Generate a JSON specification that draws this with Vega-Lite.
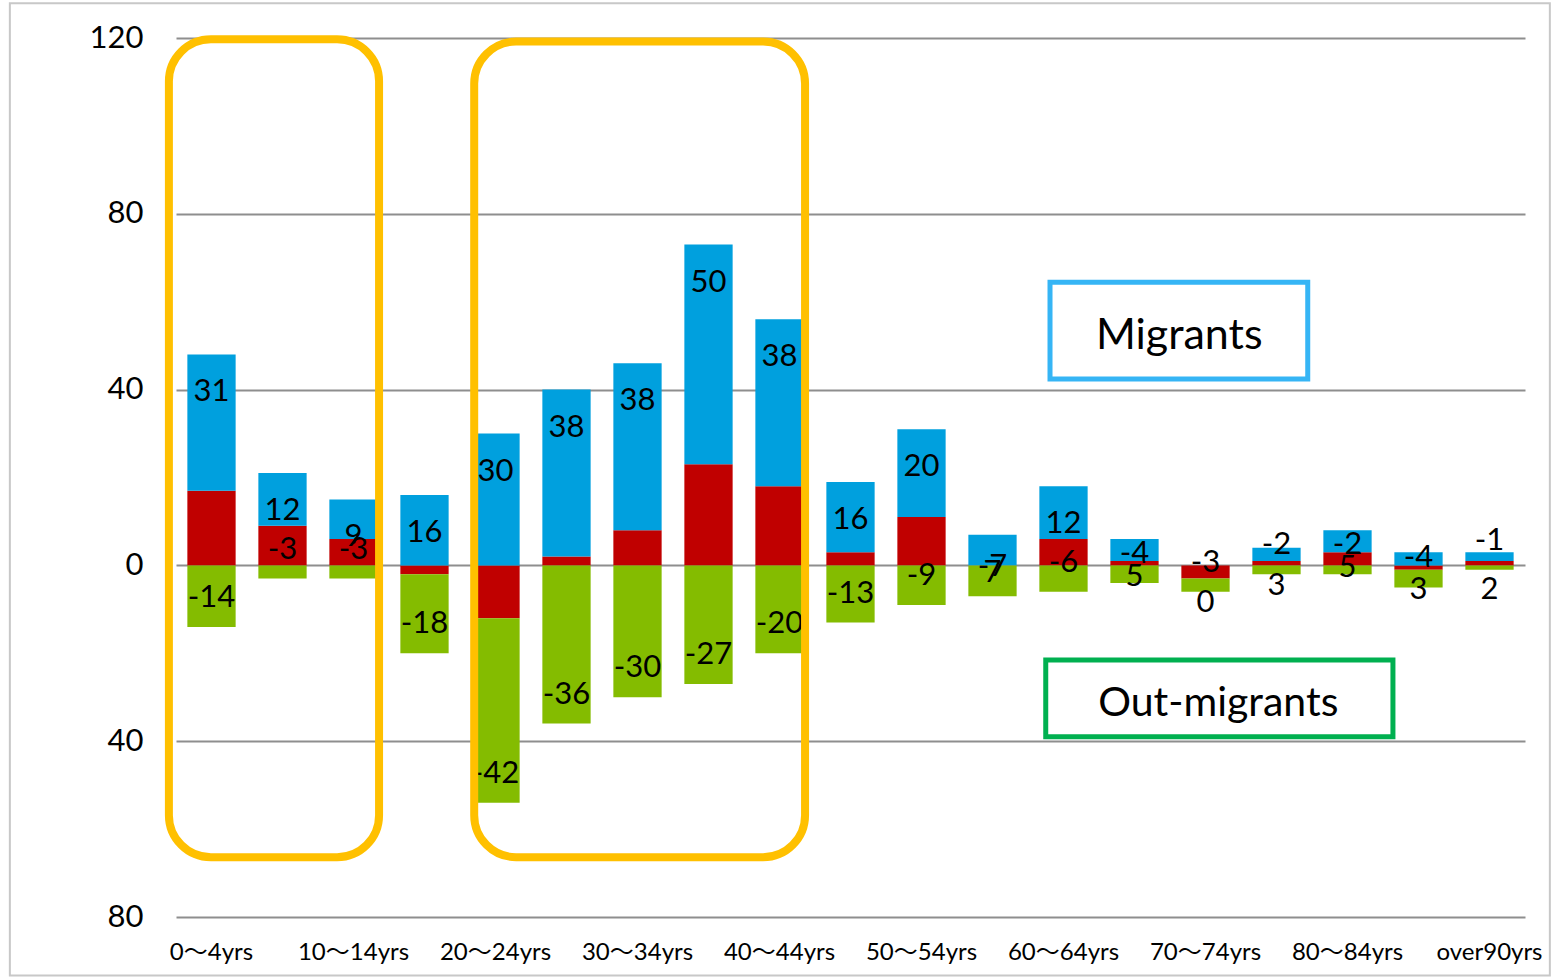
{
  "$schema": "https://vega.github.io/schema/vega-lite/v6.json",
  "width": 1349,
  "height": 879,
  "autosize": {"type": "none"},
  "padding": {"left": 176, "top": 38, "right": 31, "bottom": 60},
  "background": "white",
  "config": {
    "font": "Lato",
    "view": {"stroke": null},
    "axis": {"labelFont": "Lato, Noto Sans CJK JP", "labelColor": "#000000"}
  },
  "datasets": {
    "bars": [
      {"age": "0〜4yrs", "series": "Net", "value": 17, "o": 0},
      {"age": "0〜4yrs", "series": "Migrants", "value": 31, "o": 1},
      {"age": "0〜4yrs", "series": "Out-migrants", "value": -14, "o": 2},
      {"age": "5〜9yrs", "series": "Net", "value": 9, "o": 0},
      {"age": "5〜9yrs", "series": "Migrants", "value": 12, "o": 1},
      {"age": "5〜9yrs", "series": "Out-migrants", "value": -3, "o": 2},
      {"age": "10〜14yrs", "series": "Net", "value": 6, "o": 0},
      {"age": "10〜14yrs", "series": "Migrants", "value": 9, "o": 1},
      {"age": "10〜14yrs", "series": "Out-migrants", "value": -3, "o": 2},
      {"age": "15〜19yrs", "series": "Net", "value": -2, "o": 0},
      {"age": "15〜19yrs", "series": "Migrants", "value": 16, "o": 1},
      {"age": "15〜19yrs", "series": "Out-migrants", "value": -18, "o": 2},
      {"age": "20〜24yrs", "series": "Net", "value": -12, "o": 0},
      {"age": "20〜24yrs", "series": "Migrants", "value": 30, "o": 1},
      {"age": "20〜24yrs", "series": "Out-migrants", "value": -42, "o": 2},
      {"age": "25〜29yrs", "series": "Net", "value": 2, "o": 0},
      {"age": "25〜29yrs", "series": "Migrants", "value": 38, "o": 1},
      {"age": "25〜29yrs", "series": "Out-migrants", "value": -36, "o": 2},
      {"age": "30〜34yrs", "series": "Net", "value": 8, "o": 0},
      {"age": "30〜34yrs", "series": "Migrants", "value": 38, "o": 1},
      {"age": "30〜34yrs", "series": "Out-migrants", "value": -30, "o": 2},
      {"age": "35〜39yrs", "series": "Net", "value": 23, "o": 0},
      {"age": "35〜39yrs", "series": "Migrants", "value": 50, "o": 1},
      {"age": "35〜39yrs", "series": "Out-migrants", "value": -27, "o": 2},
      {"age": "40〜44yrs", "series": "Net", "value": 18, "o": 0},
      {"age": "40〜44yrs", "series": "Migrants", "value": 38, "o": 1},
      {"age": "40〜44yrs", "series": "Out-migrants", "value": -20, "o": 2},
      {"age": "45〜49yrs", "series": "Net", "value": 3, "o": 0},
      {"age": "45〜49yrs", "series": "Migrants", "value": 16, "o": 1},
      {"age": "45〜49yrs", "series": "Out-migrants", "value": -13, "o": 2},
      {"age": "50〜54yrs", "series": "Net", "value": 11, "o": 0},
      {"age": "50〜54yrs", "series": "Migrants", "value": 20, "o": 1},
      {"age": "50〜54yrs", "series": "Out-migrants", "value": -9, "o": 2},
      {"age": "55〜59yrs", "series": "Net", "value": 0, "o": 0},
      {"age": "55〜59yrs", "series": "Migrants", "value": 7, "o": 1},
      {"age": "55〜59yrs", "series": "Out-migrants", "value": -7, "o": 2},
      {"age": "60〜64yrs", "series": "Net", "value": 6, "o": 0},
      {"age": "60〜64yrs", "series": "Migrants", "value": 12, "o": 1},
      {"age": "60〜64yrs", "series": "Out-migrants", "value": -6, "o": 2},
      {"age": "65〜69yrs", "series": "Net", "value": 1, "o": 0},
      {"age": "65〜69yrs", "series": "Migrants", "value": 5, "o": 1},
      {"age": "65〜69yrs", "series": "Out-migrants", "value": -4, "o": 2},
      {"age": "70〜74yrs", "series": "Net", "value": -3, "o": 0},
      {"age": "70〜74yrs", "series": "Migrants", "value": 0, "o": 1},
      {"age": "70〜74yrs", "series": "Out-migrants", "value": -3, "o": 2},
      {"age": "75〜79yrs", "series": "Net", "value": 1, "o": 0},
      {"age": "75〜79yrs", "series": "Migrants", "value": 3, "o": 1},
      {"age": "75〜79yrs", "series": "Out-migrants", "value": -2, "o": 2},
      {"age": "80〜84yrs", "series": "Net", "value": 3, "o": 0},
      {"age": "80〜84yrs", "series": "Migrants", "value": 5, "o": 1},
      {"age": "80〜84yrs", "series": "Out-migrants", "value": -2, "o": 2},
      {"age": "85〜89yrs", "series": "Net", "value": -1, "o": 0},
      {"age": "85〜89yrs", "series": "Migrants", "value": 3, "o": 1},
      {"age": "85〜89yrs", "series": "Out-migrants", "value": -4, "o": 2},
      {"age": "over90yrs", "series": "Net", "value": 1, "o": 0},
      {"age": "over90yrs", "series": "Migrants", "value": 2, "o": 1},
      {"age": "over90yrs", "series": "Out-migrants", "value": -1, "o": 2}
    ],
    "frame": [
      {"x1": -2.34, "x2": 19.35, "y1": 127.9, "y2": -93.3}
    ],
    "orange": [
      {"x1": -0.1, "x2": 2.86, "y1": 119.7, "y2": -66.4},
      {"x1": 4.2, "x2": 8.86, "y1": 119.2, "y2": -66.4}
    ],
    "boxes": [
      {"name": "Migrants", "x1": 12.31, "x2": 15.94, "y1": 64.4, "y2": 42.4, "tx": 14.13, "ty": 49.3, "c": "#36B5F5", "fs": 43},
      {"name": "Out-migrants", "x1": 12.25, "x2": 17.14, "y1": -21.5, "y2": -39.0, "tx": 14.68, "ty": -34.2, "c": "#00B050", "fs": 41}
    ]
  },
  "layer": [
    {
      "data": {"name": "bars"},
      "transform": [
        {"stack": "value", "groupby": ["age"], "sort": [{"field": "o", "order": "ascending"}], "as": ["v0", "v1"]}
      ],
      "encoding": {
        "x": {
          "field": "age",
          "type": "nominal",
          "title": null,
          "scale": {
            "domain": ["0〜4yrs","5〜9yrs","10〜14yrs","15〜19yrs","20〜24yrs","25〜29yrs","30〜34yrs","35〜39yrs","40〜44yrs","45〜49yrs","50〜54yrs","55〜59yrs","60〜64yrs","65〜69yrs","70〜74yrs","75〜79yrs","80〜84yrs","85〜89yrs","over90yrs"],
            "paddingInner": 0.32,
            "paddingOuter": 0.16
          },
          "axis": {
            "values": ["0〜4yrs","10〜14yrs","20〜24yrs","30〜34yrs","40〜44yrs","50〜54yrs","60〜64yrs","70〜74yrs","80〜84yrs","over90yrs"],
            "labelAngle": 0,
            "labelFontSize": 24,
            "labelPadding": 23,
            "domain": false,
            "ticks": false,
            "grid": false
          }
        }
      },
      "layer": [
        {
          "mark": {"type": "bar"},
          "encoding": {
            "y": {
              "field": "v0",
              "type": "quantitative",
              "title": null,
              "scale": {"domain": [-80, 120], "nice": false, "zero": false},
              "axis": {
                "values": [-80, -40, 0, 40, 80, 120],
                "labelExpr": "format(abs(datum.value), 'd')",
                "labelFontSize": 31,
                "labelPadding": 33,
                "domain": false,
                "ticks": false,
                "grid": true,
                "gridColor": "#8E8E8E",
                "gridWidth": 2.2
              }
            },
            "y2": {"field": "v1"},
            "color": {
              "field": "series",
              "type": "nominal",
              "scale": {"domain": ["Net", "Migrants", "Out-migrants"], "range": ["#C00000", "#00A0DE", "#84BC00"]},
              "legend": null
            }
          }
        },
        {
          "transform": [{"filter": "datum.series == 'Migrants'"}],
          "mark": {"type": "text", "fontSize": 31, "baseline": "alphabetic", "dy": 47, "color": "#000000"},
          "encoding": {
            "y": {"field": "v1", "type": "quantitative", "scale": {"domain": [-80, 120], "nice": false, "zero": false}},
            "text": {"field": "value", "type": "nominal"}
          }
        },
        {
          "transform": [{"filter": "datum.series == 'Out-migrants'"}],
          "mark": {"type": "text", "fontSize": 31, "baseline": "alphabetic", "dy": -20, "color": "#000000"},
          "encoding": {
            "y": {"field": "v1", "type": "quantitative", "scale": {"domain": [-80, 120], "nice": false, "zero": false}},
            "text": {"field": "value", "type": "nominal"}
          }
        }
      ]
    },
    {
      "layer": [
        {
          "data": {"name": "frame"},
          "mark": {"type": "rect", "fill": "white", "fillOpacity": 0, "stroke": "#C8C8C8", "strokeWidth": 2},
          "encoding": {
            "x": {"field": "x1", "type": "quantitative", "scale": {"domain": [0, 19], "nice": false, "zero": false}, "axis": null},
            "x2": {"field": "x2"},
            "y": {"field": "y1", "type": "quantitative", "scale": {"domain": [-80, 120], "nice": false, "zero": false}},
            "y2": {"field": "y2"}
          }
        },
        {
          "data": {"name": "boxes"},
          "mark": {"type": "rect", "fill": "white", "strokeWidth": 5},
          "encoding": {
            "x": {"field": "x1", "type": "quantitative", "scale": {"domain": [0, 19], "nice": false, "zero": false}, "axis": null},
            "x2": {"field": "x2"},
            "y": {"field": "y1", "type": "quantitative", "scale": {"domain": [-80, 120], "nice": false, "zero": false}},
            "y2": {"field": "y2"},
            "stroke": {"field": "c", "type": "nominal", "scale": null}
          }
        },
        {
          "data": {"name": "boxes"},
          "mark": {"type": "text", "baseline": "alphabetic", "align": "center", "color": "#000000"},
          "encoding": {
            "x": {"field": "tx", "type": "quantitative", "scale": {"domain": [0, 19], "nice": false, "zero": false}, "axis": null},
            "y": {"field": "ty", "type": "quantitative", "scale": {"domain": [-80, 120], "nice": false, "zero": false}},
            "text": {"field": "name", "type": "nominal"},
            "size": {"field": "fs", "type": "quantitative", "scale": null}
          }
        },
        {
          "data": {"name": "orange"},
          "mark": {"type": "rect", "fill": "white", "fillOpacity": 0, "stroke": "#FFC000", "strokeWidth": 8, "cornerRadius": 42},
          "encoding": {
            "x": {"field": "x1", "type": "quantitative", "scale": {"domain": [0, 19], "nice": false, "zero": false}, "axis": null},
            "x2": {"field": "x2"},
            "y": {"field": "y1", "type": "quantitative", "scale": {"domain": [-80, 120], "nice": false, "zero": false}},
            "y2": {"field": "y2"}
          }
        }
      ]
    }
  ],
  "resolve": {"scale": {"x": "independent"}}
}
